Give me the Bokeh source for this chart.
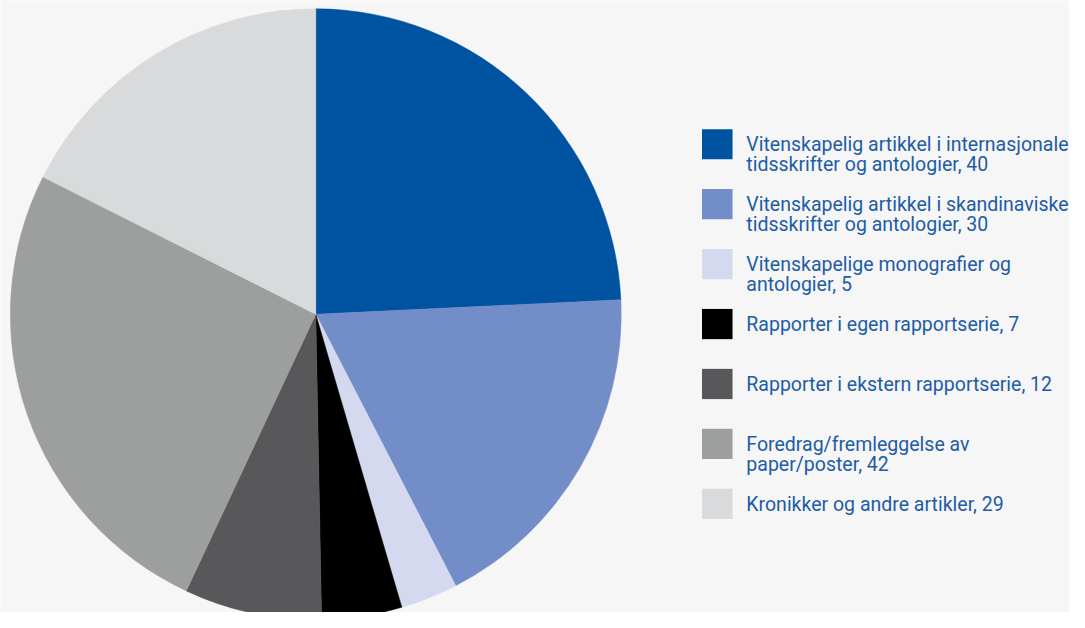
import math
from bokeh.plotting import figure
from bokeh.models import Range1d, ColumnDataSource
from bokeh.core.properties import value
from bokeh.embed import file_html
from bokeh.resources import INLINE

labels = [
    ["Vitenskapelig artikkel i internasjonale", "tidsskrifter og antologier, 40"],
    ["Vitenskapelig artikkel i skandinaviske", "tidsskrifter og antologier, 30"],
    ["Vitenskapelige monografier og", "antologier, 5"],
    ["Rapporter i egen rapportserie, 7"],
    ["Rapporter i ekstern rapportserie, 12"],
    ["Foredrag/fremleggelse av", "paper/poster, 42"],
    ["Kronikker og andre artikler, 29"],
]
counts = [40, 30, 5, 7, 12, 42, 29]
colors = ["#0053a0", "#738dc8", "#d4d9ef", "#000000", "#58585a", "#9d9e9e", "#d9dadb"]

BG = "#f6f6f6"
TEXT = "#1d5ca6"
W, H = 1069, 612
# data coords = reference image pixels (x), negative reference pixels (y)
p = figure(width=W, height=H, output_backend="svg", toolbar_location=None,
           x_range=Range1d(0, 1085), y_range=Range1d(-628, 0),
           x_axis_location=None, y_axis_location=None, min_border=0)
p.grid.visible = False
p.outline_line_color = None
p.background_fill_color = BG
p.border_fill_color = BG

total = sum(counts)
starts, ends = [], []
cum = 0
for c in counts:
    starts.append(math.pi / 2 - 2 * math.pi * cum / total)
    cum += c
    ends.append(math.pi / 2 - 2 * math.pi * cum / total)

cx, cy, r = 320, -322, 310
src = ColumnDataSource(dict(start=starts, end=ends, color=colors))
p.wedge(x=cx, y=cy, radius=r, start_angle="start", end_angle="end",
        direction="clock", fill_color="color", line_color="color", line_width=0.5,
        source=src)

# legend
lx, top0, step, sq = 712, 132, 61.5, 31
sx, sy, tx, ty, tt = [], [], [], [], []
for i, lab in enumerate(labels):
    top = top0 + step * i
    sx.append(lx + sq / 2)
    sy.append(-(top + sq / 2))
    for j, line in enumerate(lab):
        tx.append(757)
        ty.append(-(top + 16 + 20.5 * j))
        tt.append(line)
p.rect(x=sx, y=sy, width=sq, height=sq, fill_color=colors, line_color=None)
p.text(x=tx, y=ty, text=tt, text_font=value("Roboto"), text_font_size="19.5px",
       text_color=TEXT, text_baseline="alphabetic", text_align="left")

open("out.html", "w").write(file_html(p, INLINE))
